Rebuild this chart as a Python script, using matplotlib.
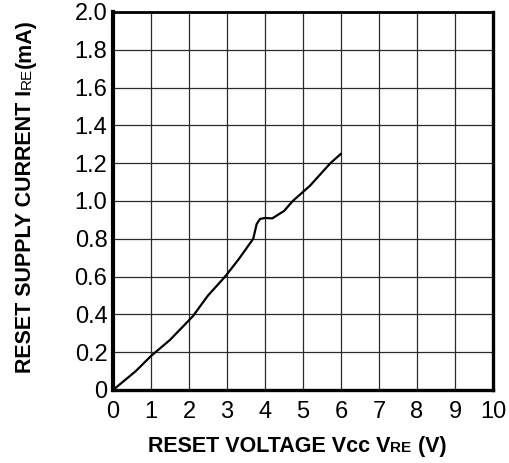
import matplotlib
matplotlib.use('Agg')
import matplotlib.pyplot as plt

# Reset supply current vs reset voltage
voltage = [0.0, 0.3, 0.6, 1.0, 1.5, 2.1, 2.5, 2.95, 3.3, 3.69, 3.78, 3.87,
           4.0, 4.19, 4.5, 4.73, 5.18, 5.72, 6.0]
current = [0.0, 0.05, 0.10, 0.18, 0.265, 0.39, 0.50, 0.60, 0.69, 0.80, 0.878,
           0.905, 0.91, 0.908, 0.947, 1.0, 1.08, 1.2, 1.25]

x_ticks = [0, 1, 2, 3, 4, 5, 6, 7, 8, 9, 10]
y_ticks = [0, 0.2, 0.4, 0.6, 0.8, 1.0, 1.2, 1.4, 1.6, 1.8, 2.0]
y_tick_labels = ['0', '0.2', '0.4', '0.6', '0.8', '1.0', '1.2', '1.4', '1.6', '1.8', '2.0']

plt.rcParams['font.family'] = ['Liberation Sans', 'DejaVu Sans']

fig = plt.figure(figsize=(5.10, 4.63), dpi=100)
ax = fig.add_axes([0.2216, 0.1577, 0.7451, 0.8164])

ax.plot(voltage, current, color='black', linewidth=1.6,
        solid_capstyle='round', solid_joinstyle='round')

ax.set_xlim(0, 10)
ax.set_ylim(0, 2)
ax.set_xticks(x_ticks)
ax.set_yticks(y_ticks)
ax.set_yticklabels(y_tick_labels)
ax.tick_params(axis='both', length=0, labelsize=17)
ax.tick_params(axis='x', pad=8)
ax.tick_params(axis='y', pad=4)
ax.grid(color='#2a2a2a', linewidth=0.9)

# thick frame, heavier on left side
ax.spines['left'].set_linewidth(3.0)
ax.spines['bottom'].set_linewidth(2.4)
ax.spines['top'].set_linewidth(2.0)
ax.spines['right'].set_linewidth(2.4)


def compose_label(parts, x, y, rotation=0):
    """Draw a label built from pieces of different sizes, centred at (x, y)."""
    renderer = fig.canvas.get_renderer()
    texts = []
    for text, size, weight in parts:
        t = fig.text(0, 0, text, fontsize=size, fontweight=weight,
                     rotation=rotation, rotation_mode='anchor',
                     ha='left', va='baseline')
        texts.append(t)
    inv = fig.transFigure.inverted()
    lengths = []
    for t in texts:
        bb = t.get_window_extent(renderer).transformed(inv)
        lengths.append(bb.height if rotation else bb.width)
    total = sum(lengths)
    pos = (y if rotation else x) - total / 2
    for t, length in zip(texts, lengths):
        if rotation:
            t.set_position((x, pos))
        else:
            t.set_position((pos, y))
        pos += length


compose_label([('RESET VOLTAGE Vcc V', 15.5, 'bold'),
               ('RE', 11, 'bold'),
               (' (V)', 15.5, 'bold')],
              x=297 / 510, y=1 - 452 / 463)

compose_label([('RESET SUPPLY CURRENT I', 15.5, 'bold'),
               ('RE', 11, 'normal'),
               ('(mA)', 15.5, 'bold')],
              x=31 / 510, y=1 - 196 / 463, rotation=90)

fig.savefig('out.png', dpi=100)
